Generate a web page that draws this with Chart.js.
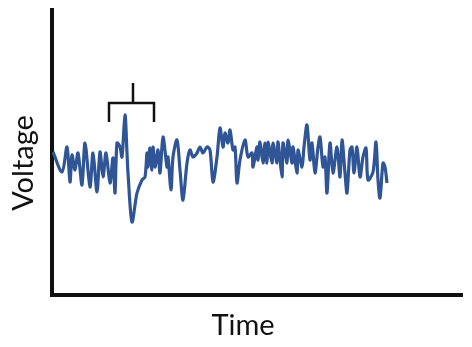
<!DOCTYPE html>
<html>
<head>
<meta charset="utf-8">
<script src="https://cdn.jsdelivr.net/npm/chart.js@4"></script>
<style>
  html, body { margin: 0; padding: 0; background: #fff; }
  #wrap { width: 472px; height: 347px; }
</style>
</head>
<body>
<div id="wrap"><canvas id="voltChart"></canvas></div>
<script>
// trace (arbitrary units)
const timeVals = [1, 10, 15, 18, 20, 23, 26, 30, 33, 38, 41, 45, 48, 51, 54, 58, 61, 63, 65, 68,
  70, 73, 75, 76, 80, 85, 90, 93, 95, 96, 98, 100, 101, 103, 106, 108, 111, 115, 116, 119,
  121, 125, 128, 131, 135, 138, 141, 145, 148, 151, 155, 158, 161, 165, 168, 171, 173, 176, 178, 181,
  183, 185, 188, 193, 196, 200, 201, 205, 206, 208, 211, 213, 215, 216, 220, 221, 225, 226, 230, 231,
  235, 236, 240, 241, 245, 246, 250, 252, 255, 258, 260, 263, 266, 268, 271, 273, 275, 278, 281, 285,
  288, 290, 293, 295, 298, 300, 302, 305, 308, 311, 314, 316, 321, 324, 326, 328, 331, 333, 335];
const voltVals = [143, 123, 148, 113, 140, 125, 142, 110, 152, 108, 142, 103, 143, 118, 142, 112, 137, 102, 152, 148,
  138, 180, 142, 122, 73, 102, 115, 118, 142, 128, 147, 125, 148, 128, 145, 122, 158, 128, 138, 105,
  138, 155, 125, 95, 132, 145, 138, 142, 148, 142, 148, 145, 113, 138, 167, 148, 162, 152, 165, 145,
  148, 112, 135, 155, 138, 142, 128, 148, 135, 153, 132, 152, 132, 153, 132, 152, 132, 153, 118, 152,
  132, 155, 132, 148, 122, 145, 128, 148, 170, 135, 152, 122, 148, 158, 128, 138, 102, 152, 122, 148,
  118, 155, 122, 102, 145, 148, 122, 148, 118, 138, 147, 115, 123, 153, 115, 97, 132, 128, 112];

const timeRange = [0, 410];
const voltRange = [0, 285];

// bracket over the event: start, middle, end on the time axis; leg, bar, stem top on the voltage axis
const bracketTime = [57, 81, 102];
const bracketVolt = [173, 192, 212];

const axisLabels = { x: 'Time', y: 'Voltage' };
const labelFont = "29px Lato, 'Open Sans', sans-serif";

// bracket + axis labels
const overlayPlugin = {
    id: 'overlay',
    afterDraw(chart) {
        const ctx = chart.ctx;
        const xs = chart.scales.x;
        const ys = chart.scales.y;
        const area = chart.chartArea;

        const x0 = xs.getPixelForValue(bracketTime[0]);
        const xm = xs.getPixelForValue(bracketTime[1]);
        const x1 = xs.getPixelForValue(bracketTime[2]);
        const yLeg = ys.getPixelForValue(bracketVolt[0]);
        const yBar = ys.getPixelForValue(bracketVolt[1]);
        const yTop = ys.getPixelForValue(bracketVolt[2]);

        ctx.save();
        ctx.strokeStyle = '#111';
        ctx.lineWidth = 2.5;
        ctx.lineJoin = 'miter';
        ctx.beginPath();
        ctx.moveTo(x0, yLeg);
        ctx.lineTo(x0, yBar);
        ctx.lineTo(x1, yBar);
        ctx.lineTo(x1, yLeg);
        ctx.moveTo(xm, yBar);
        ctx.lineTo(xm, yTop);
        ctx.stroke();

        ctx.fillStyle = '#111';
        ctx.font = labelFont;
        ctx.textAlign = 'center';
        ctx.textBaseline = 'alphabetic';
        ctx.fillText(axisLabels.x, area.left + 191, area.bottom + 40);

        ctx.translate(area.left - 19, area.top + 153);
        ctx.rotate(-Math.PI / 2);
        ctx.fillText(axisLabels.y, 0, 0);
        ctx.restore();
    }
};

function createChart() {
    const ctx = document.getElementById('voltChart').getContext('2d');
    new Chart(ctx, {
        type: 'line',
        data: {
            datasets: [{
                data: timeVals.map((t, i) => ({ x: t, y: voltVals[i] })),
                borderColor: '#2f5597',
                borderWidth: 3.2,
                pointRadius: 0,
                tension: 0.3,
                fill: false
            }]
        },
        options: {
            responsive: true,
            maintainAspectRatio: false,
            animation: false,
            layout: {
                padding: { left: 44, top: 10, right: 10, bottom: 44 }
            },
            plugins: {
                legend: { display: false },
                tooltip: { enabled: false }
            },
            scales: {
                x: {
                    type: 'linear',
                    min: timeRange[0],
                    max: timeRange[1],
                    ticks: { display: false },
                    grid: { display: false },
                    border: { display: true, color: '#111', width: 4 }
                },
                y: {
                    min: voltRange[0],
                    max: voltRange[1],
                    ticks: { display: false },
                    grid: { display: false },
                    border: { display: true, color: '#111', width: 4 }
                }
            }
        },
        plugins: [overlayPlugin]
    });
}

document.addEventListener('DOMContentLoaded', createChart);
</script>
</body>
</html>
